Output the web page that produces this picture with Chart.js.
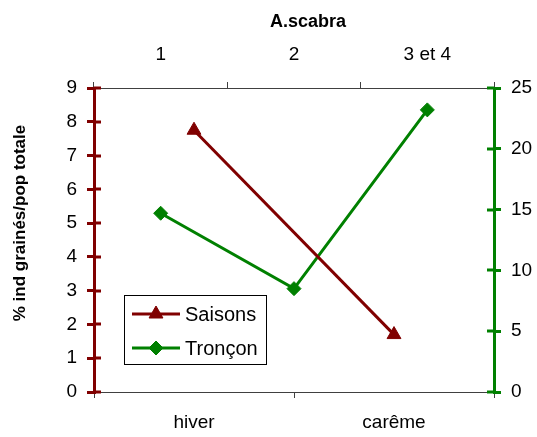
<!DOCTYPE html>
<html>
<head>
<meta charset="utf-8">
<script src="https://cdn.jsdelivr.net/npm/chart.js@4"></script>
<style>
  html, body { margin: 0; padding: 0; background: #fff; }
  canvas { display: block; }
</style>
</head>
<body>
<canvas id="c" width="537" height="437"></canvas>
<script>
// Categories: seasons on the bottom axis, stream sections on the top axis
const seasonLabels = ['hiver', 'carême'];
const sectionLabels = ['1', '2', '3 et 4'];

// % of seeding individuals per season (left axis) and per section (right axis)
const saisonsValues = [7.75, 1.7];
const tronconValues = [14.7, 8.5, 23.2];

// Axis ranges
const leftAxis = { min: 0, max: 9, step: 1 };
const rightAxis = { min: 0, max: 25, step: 5 };

const chartTitle = 'A.scabra';
const leftAxisTitle = '% ind grainés/pop totale';

const RED = '#800000';
const GREEN = '#008000';
const FRAME = '#404040';
const FONT = "'Liberation Sans', Arial, sans-serif";

// Axis tick marks that cross the coloured value axes (inner half)
const crossTicks = {
  id: 'crossTicks',
  afterDraw(chart) {
    const ctx = chart.ctx;
    const area = chart.chartArea;
    [['y', area.left, 1, RED], ['y2', area.right, -1, GREEN]].forEach(([id, x, dir, col]) => {
      const s = chart.scales[id];
      ctx.save();
      ctx.strokeStyle = col;
      ctx.lineWidth = 3;
      s.ticks.forEach(t => {
        const y = Math.round(s.getPixelForValue(t.value));
        ctx.beginPath();
        ctx.moveTo(x, y);
        ctx.lineTo(x + dir * 7, y);
        ctx.stroke();
      });
      ctx.restore();
    });
  }
};

// Chart title and left axis title
const titles = {
  id: 'titles',
  afterDraw(chart) {
    const ctx = chart.ctx;
    const a = chart.chartArea;
    ctx.save();
    ctx.fillStyle = '#000';
    ctx.font = `bold 18px ${FONT}`;
    ctx.textAlign = 'center';
    ctx.textBaseline = 'alphabetic';
    ctx.fillText(chartTitle, (a.left + a.right) / 2 + 14, a.top - 61);

    ctx.translate(25, (a.top + a.bottom) / 2 - 17);
    ctx.rotate(-Math.PI / 2);
    ctx.font = `bold 17px ${FONT}`;
    ctx.fillText(leftAxisTitle, 0, 0);
    ctx.restore();
  }
};

// Framed legend inside the plot
const boxLegend = {
  id: 'boxLegend',
  afterDraw(chart) {
    const ctx = chart.ctx;
    const a = chart.chartArea;
    const bx = a.left + 30, by = a.bottom - 97, bw = 142, bh = 69;
    ctx.save();
    ctx.fillStyle = '#fff';
    ctx.fillRect(bx, by, bw, bh);
    ctx.strokeStyle = '#000';
    ctx.lineWidth = 1;
    ctx.strokeRect(bx + 0.5, by + 0.5, bw, bh);
    chart.data.datasets.forEach((ds, i) => {
      const y = by + 19 + i * 34;
      ctx.strokeStyle = ds.borderColor;
      ctx.lineWidth = ds.borderWidth;
      ctx.beginPath();
      ctx.moveTo(bx + 8, y);
      ctx.lineTo(bx + 56, y);
      ctx.stroke();
      ctx.fillStyle = ds.pointBackgroundColor;
      ctx.strokeStyle = ds.pointBorderColor;
      ctx.lineWidth = 1;
      Chart.helpers.drawPoint(ctx, {
        pointStyle: ds.pointStyle, radius: ds.pointRadius, rotation: 0, borderWidth: 1
      }, bx + 32, y);
      ctx.fillStyle = '#000';
      ctx.font = `20px ${FONT}`;
      ctx.textAlign = 'left';
      ctx.textBaseline = 'middle';
      ctx.fillText(ds.label, bx + 61, y + 1);
    });
    ctx.restore();
  }
};

const catAxis = (labels, position, padding, height) => ({
  type: 'category',
  position,
  labels,
  offset: true,
  grid: { offset: true, drawOnChartArea: false, drawTicks: true, tickLength: 6, color: FRAME, lineWidth: 1 },
  border: { display: true, color: FRAME, width: 1 },
  ticks: { color: '#000', font: { family: FONT, size: 19 }, padding, maxRotation: 0, autoSkip: false },
  afterFit: s => { s.height = height; }
});

const valAxis = (range, position, color, width) => ({
  type: 'linear',
  position,
  min: range.min,
  max: range.max,
  grid: { drawOnChartArea: false, drawTicks: true, tickLength: 7, color, lineWidth: 3 },
  border: { display: true, color, width: 3 },
  ticks: { stepSize: range.step, color: '#000', font: { family: FONT, size: 19 }, padding: 10 },
  afterFit: s => { s.width = width; }
});

new Chart(document.getElementById('c'), {
  type: 'line',
  data: {
    datasets: [
      {
        label: 'Saisons',
        data: saisonsValues,
        xAxisID: 'x',
        yAxisID: 'y',
        borderColor: RED,
        borderWidth: 3,
        pointStyle: 'triangle',
        pointRadius: 8,
        pointBackgroundColor: RED,
        pointBorderColor: RED,
        pointBorderWidth: 1,
        tension: 0
      },
      {
        label: 'Tronçon',
        data: tronconValues,
        xAxisID: 'x2',
        yAxisID: 'y2',
        borderColor: GREEN,
        borderWidth: 3,
        pointStyle: 'rectRot',
        pointRadius: 7,
        pointBackgroundColor: GREEN,
        pointBorderColor: GREEN,
        pointBorderWidth: 1,
        tension: 0
      }
    ]
  },
  options: {
    responsive: false,
    animation: false,
    layout: { padding: 0 },
    plugins: { legend: { display: false }, tooltip: { enabled: false }, title: { display: false } },
    scales: {
      x: catAxis(seasonLabels, 'bottom', 13, 45),
      x2: catAxis(sectionLabels, 'top', 16, 88),
      y: valAxis(leftAxis, 'left', RED, 94),
      y2: valAxis(rightAxis, 'right', GREEN, 43)
    }
  },
  plugins: [crossTicks, titles, boxLegend]
});
</script>
</body>
</html>
